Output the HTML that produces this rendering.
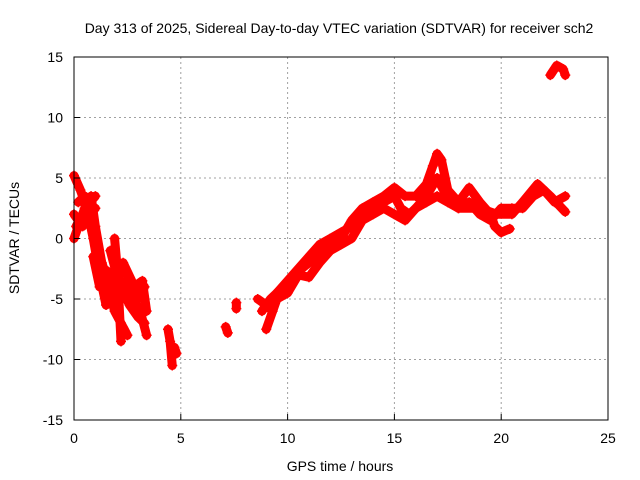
<!DOCTYPE html>
<html><head><meta charset="utf-8"><style>
body{margin:0;background:#fff}
svg{display:block;font-family:"Liberation Sans",sans-serif;font-size:14px}
</style></head><body>
<svg id="chart" width="640" height="480" viewBox="0 0 640 480">
<rect width="640" height="480" fill="#fff"/>
<text x="339" y="33" text-anchor="middle">Day 313 of 2025, Sidereal Day-to-day VTEC variation (SDTVAR) for receiver sch2</text>
<g id="grid"></g><g id="series"></g><g id="axes"></g>
<text x="340" y="471" text-anchor="middle">GPS time / hours</text>
<text transform="translate(19,238) rotate(-90)" text-anchor="middle">SDTVAR / TECUs</text>
</svg>
<script>
const xTicks=[0,5,10,15,20,25];
const yTicks=[-15,-10,-5,0,5,10,15];
const seg1=[[0,5.2],[0.3,4],[0.6,2.5],[0.9,0],[1.2,-3],[1.5,-5.5]];
const seg2=[[0,2],[0.4,1],[0.8,3.5],[1,1],[1.3,-2],[1.6,-4],[1.9,-6],[2.2,-7],[2.5,-8]];
const seg3=[[0,0],[0.5,2.5],[1,3.5]];
const seg4=[[1.7,-1],[2,-3],[2.4,-4],[2.8,-5],[3.1,-6],[3.4,-8]];
const seg5=[[2.5,-3],[2.8,-4],[3.2,-3.5],[3.4,-6]];
const seg6=[[1.9,0],[2,-2],[2.1,-5],[2.2,-8.5]];
const seg7=[[4.4,-7.5],[4.5,-8.5],[4.6,-10.5]];
const seg8=[[4.7,-9],[4.8,-9.5]];
const seg9=[[7.1,-7.3],[7.2,-7.8]];
const seg10=[[7.6,-5.3],[7.6,-5.8]];
const seg11=[[0.2,3],[0.5,3.5],[0.8,2],[1.1,-1],[1.4,-2.5],[1.8,-3],[2.2,-4],[2.6,-5.5],[3,-6.5],[3.3,-7]];
const seg12=[[0.9,-1.5],[1.2,-4],[1.5,-3],[1.8,-5],[2.3,-2],[2.7,-3.5],[3,-5],[3.3,-4]];
const seg13=[[0.1,1],[0.4,2],[0.7,2.8],[1,2.5]];
const traceA=[[8.6,-5],[9,-5.5],[9.3,-6],[9.5,-4.5],[10,-3.5],[10.5,-2.5],[11,-1.5],[11.5,-0.5],[12,0],[12.5,0.5],[13,1],[13.5,2],[14,2.5],[14.5,3],[15,3.5],[15.3,2.5],[15.7,2],[16,2.5],[16.5,3.5],[17,5],[17.3,4],[17.7,3],[18,2.5],[18.5,3],[19,2],[19.5,1.5],[20,2.5],[20.5,2.5],[21,2.5],[21.5,3.5],[22,4],[22.5,3],[23,3.5]];
const traceB=[[8.8,-6],[9.2,-5],[9.8,-4],[10.3,-3],[11,-2],[11.5,-1],[12,-0.5],[12.5,0],[13,1.5],[13.5,2.5],[14,3],[14.5,3.5],[15,4.2],[15.5,3.5],[16,3.5],[16.5,4.5],[16.8,6],[17,7],[17.2,6.5],[17.5,4],[18,3],[18.5,4.2],[19,3],[19.5,2],[19.7,1],[20,0.5],[20.4,0.8]];
const traceC=[[9,-7.5],[9.5,-5],[10,-4.5],[10.5,-3],[11,-3.2],[11.5,-2],[12,-1],[12.5,-0.5],[13,0],[13.5,1.5],[14,2],[14.5,2.5],[15,2],[15.5,1.5],[16,2.5],[16.5,3],[17,3.5],[17.5,3],[18,2.5],[19,2.5],[19.8,2],[20.5,2],[21,3],[21.7,4.5],[22.3,3.5],[23,2.2]];
const traceTop=[[22.3,13.5],[22.6,14.3],[22.9,14],[23,13.5]];
const segments=[seg1,seg2,seg3,seg4,seg5,seg6,seg7,seg8,seg9,seg10,seg11,seg12,seg13,traceA,traceB,traceC,traceTop];

const X0=74,X1=608,Y0=420,Y1=57;
const xs=h=>X0+(h-0)/25*(X1-X0);
const ys=v=>Y0-(v+15)/30*(Y0-Y1);
const NS="http://www.w3.org/2000/svg";
function mk(tag,parent,attrs){const e=document.createElementNS(NS,tag);for(const k in attrs)e.setAttribute(k,attrs[k]);parent.appendChild(e);return e;}
const grid=document.getElementById('grid'),axes=document.getElementById('axes'),ser=document.getElementById('series');
xTicks.forEach(t=>{
  if(t>0&&t<25){const l=mk('line',grid,{x1:xs(t),x2:xs(t),y1:Y1,y2:Y0,stroke:'#a0a0a0','stroke-dasharray':'2,3'});
  }
  const tk=mk('line',axes,{x1:xs(t),x2:xs(t),y1:Y0,y2:Y0-6,stroke:'#000'});
  
  const tx=mk('text',axes,{x:xs(t),y:443,'text-anchor':'middle'});tx.textContent=t;
  
});
yTicks.forEach(t=>{
  if(t>-15&&t<15){const l=mk('line',grid,{x1:X0,x2:X1,y1:ys(t),y2:ys(t),stroke:'#a0a0a0','stroke-dasharray':'2,3'});
  }
  const tk=mk('line',axes,{x1:X0,x2:X0+6,y1:ys(t),y2:ys(t),stroke:'#000'});
  
  const tx=mk('text',axes,{x:X0-11,y:ys(t)+5,'text-anchor':'end'});tx.textContent=t;
  
});
const frame=mk('rect',axes,{x:X0,y:Y1,width:X1-X0,height:Y0-Y1,fill:'none',stroke:'#000'});

segments.forEach(s=>{
  const pl=mk('polyline',ser,{points:s.map(p=>xs(p[0])+','+ys(p[1])).join(' '),fill:'none',stroke:'#f00','stroke-width':9,'stroke-linejoin':'round','stroke-linecap':'round'});
  
  s.forEach(p=>{
    const m=mk('path',ser,{d:`M${xs(p[0])-5},${ys(p[1])}h10M${xs(p[0])},${ys(p[1])-5}v10`,stroke:'#f00','stroke-width':1.5});
    
  });
});
</script>
</body></html>
